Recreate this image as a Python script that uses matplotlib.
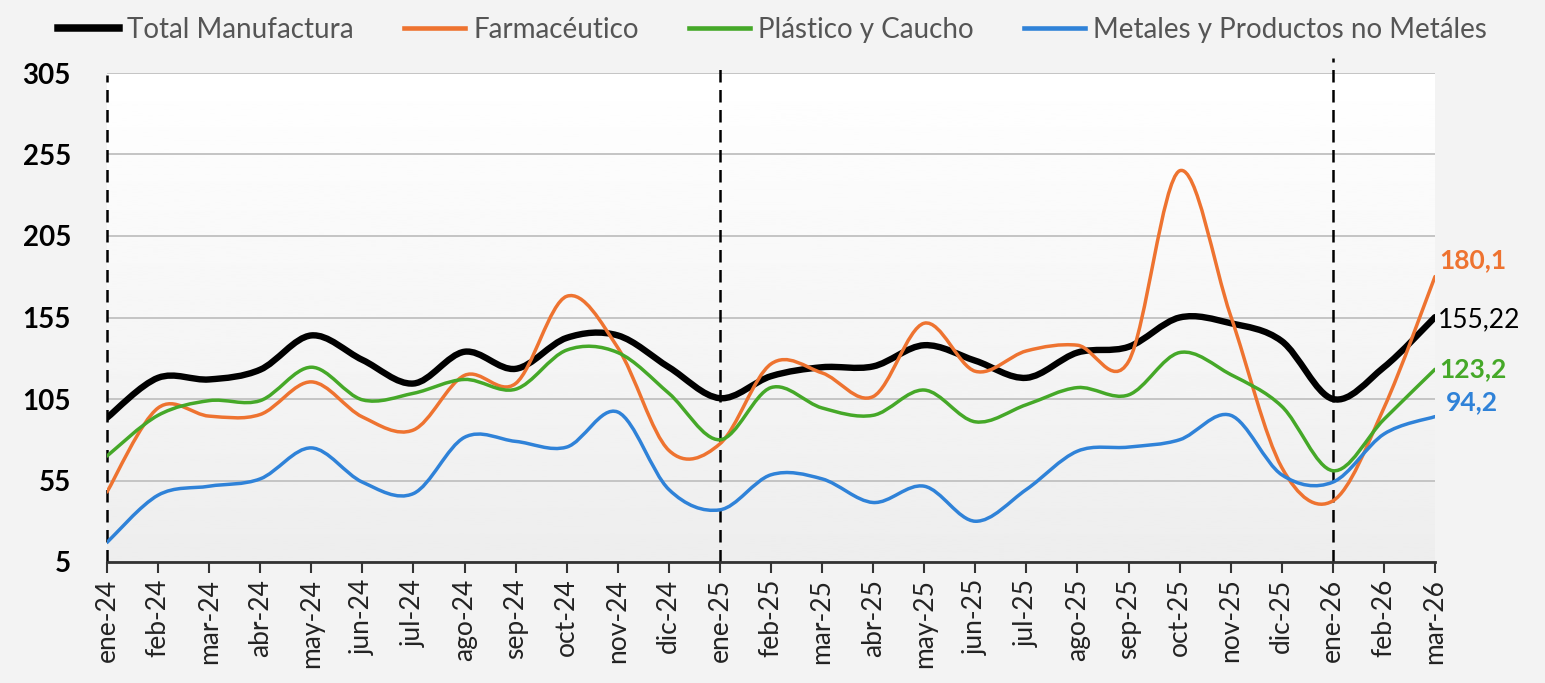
import numpy as np
import matplotlib.pyplot as plt
from matplotlib.path import Path
from matplotlib.patches import PathPatch
from matplotlib.lines import Line2D

plt.rcParams['font.family'] = ['Lato', 'DejaVu Sans']

months = ['ene-24', 'feb-24', 'mar-24', 'abr-24', 'may-24', 'jun-24', 'jul-24',
          'ago-24', 'sep-24', 'oct-24', 'nov-24', 'dic-24', 'ene-25', 'feb-25',
          'mar-25', 'abr-25', 'may-25', 'jun-25', 'jul-25', 'ago-25', 'sep-25',
          'oct-25', 'nov-25', 'dic-25', 'ene-26', 'feb-26', 'mar-26']

total = [93.5, 118, 117, 123, 144, 129, 114.5, 134, 123.5, 142.5, 144, 124.5, 105.5,
         119, 124.5, 125, 138, 128.5, 118, 133.5, 137, 155, 151.5, 140.5, 105, 124.5, 155.22]
farma = [48, 99.5, 94.5, 95.5, 115.5, 94, 86, 119.5, 114.5, 168, 136.5, 73.5, 77.5,
         126.5, 121, 106.5, 151.5, 122, 134.5, 138, 128, 245, 156, 63, 42.5, 99.5, 180.1]
plastico = [70, 95, 104, 104, 124.5, 104.5, 108.5, 117, 111, 135, 133.5, 108.5, 80,
            112, 99.5, 95, 110.5, 91, 101.5, 112, 107.5, 133.5, 120, 100.5, 61, 92.5, 123.2]
metales = [17, 46, 51.5, 56, 75, 54, 47, 81.5, 79, 75.5, 97, 49.5, 37,
           58.5, 56, 41.5, 51.5, 30, 49.5, 73, 75.5, 80, 95, 58.5, 54, 83.5, 94.2]

series = [
    ('Total Manufactura', total, '#000000', 4.6, '155,22', 'normal'),
    ('Farmacéutico', farma, '#EE7330', 2.5, '180,1', 'bold'),
    ('Plástico y Caucho', plastico, '#45A828', 2.5, '123,2', 'bold'),
    ('Metales y Productos no Metáles', metales, '#2F82D8', 2.5, '94,2', 'bold'),
]
label_offsets = [(2, -2), (3, 3), (3, 0), (8, 2)]


def smooth_path(xs, ys):
    # Excel-style smoothed line: Catmull-Rom segments as cubic Bezier
    pts = np.column_stack([xs, ys]).astype(float)
    n = len(pts)
    verts = [pts[0]]
    codes = [Path.MOVETO]
    for i in range(n - 1):
        p0 = pts[max(i - 1, 0)]
        p1 = pts[i]
        p2 = pts[i + 1]
        p3 = pts[min(i + 2, n - 1)]
        c1 = p1 + (p2 - p0) / 6
        c2 = p2 - (p3 - p1) / 6
        verts += [c1, c2, p2]
        codes += [Path.CURVE4] * 3
    return Path(verts, codes)


fig = plt.figure(figsize=(15.45, 6.83), dpi=100, facecolor='#f3f3f3')
ax = fig.add_axes([107 / 1545, 1 - 562 / 683, (1435 - 107) / 1545, (562 - 73) / 683])
x = np.arange(len(months))

# background gradient of the plot area: white at top, light gray at the bottom
grad = np.linspace(0.93, 1.0, 256).reshape(-1, 1)
ax.imshow(grad, cmap='gray', vmin=0, vmax=1, aspect='auto', origin='lower',
          extent=[0, len(months) - 1, 5, 305], zorder=0)

for name, vals, col, lw, lab, wt in series:
    ax.add_patch(PathPatch(smooth_path(x, vals), fill=False, edgecolor=col,
                           lw=lw, capstyle='round', joinstyle='round', zorder=3))

for (name, vals, col, lw, lab, wt), off in zip(series, label_offsets):
    ax.annotate(lab, (x[-1], vals[-1]), xytext=off, textcoords='offset points',
                ha='left', va='bottom' if off[1] > 0 else 'center', color=col,
                fontsize=19, fontweight=wt, annotation_clip=False)

for xv, top in [(0, 0.995), (12, 1.01), (24, 1.03)]:
    ax.axvline(xv, ymin=0, ymax=top, color='black', lw=1.8, ls=(0, (5, 3)),
               clip_on=False, zorder=2)

ax.set_xlim(0, len(months) - 1)
ax.set_ylim(5, 305)
ax.set_yticks([5, 55, 105, 155, 205, 255, 305])
ax.yaxis.grid(True, color='#c4c4c4', lw=1.4)
ax.set_axisbelow(True)
ax.set_xticks(x)
ax.set_xticklabels(months, rotation=90, fontsize=19, color='#222222')
ax.tick_params(axis='y', length=0, pad=26, labelsize=20)
for t in ax.get_yticklabels():
    t.set_fontweight('bold')
ax.tick_params(axis='x', length=8, width=1.5, color='#333333', pad=4)
for s in ['left', 'right', 'top']:
    ax.spines[s].set_visible(False)
ax.spines['bottom'].set_color('#333333')
ax.spines['bottom'].set_linewidth(2)
ax.spines['bottom'].set_zorder(4)

handles = [Line2D([], [], color=c, lw=lw + 0.8) for _, _, c, lw, _, _ in series]
leg = fig.legend(handles, [s[0] for s in series], loc='center',
                 bbox_to_anchor=(0.5, 1 - 30 / 683), ncol=4, frameon=False,
                 fontsize=20, handlelength=2.2, handletextpad=0.3, columnspacing=1.8)
for t in leg.get_texts():
    t.set_color('#555555')

fig.savefig('out.png', dpi=100, facecolor=fig.get_facecolor())
